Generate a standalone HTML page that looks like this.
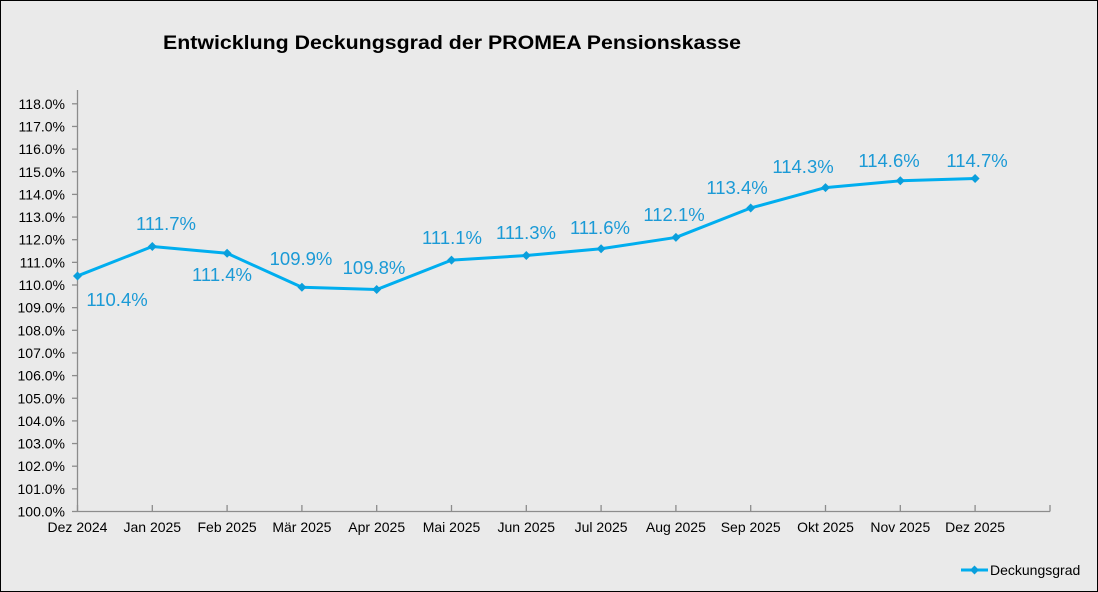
<!DOCTYPE html>
<html><head><meta charset="utf-8"><style>
html,body{margin:0;padding:0;background:#eaeaea}
svg{display:block}
text{font-family:"Liberation Sans",Arial,sans-serif}
</style></head><body>
<svg width="1098" height="592" viewBox="0 0 1098 592" xmlns="http://www.w3.org/2000/svg">
<rect x="0.5" y="0.5" width="1097" height="591" fill="#eaeaea" stroke="#000" stroke-width="1"/>
<text x="163" y="49" font-size="19" font-weight="bold" fill="#000" textLength="578" lengthAdjust="spacingAndGlyphs">Entwicklung Deckungsgrad der PROMEA Pensionskasse</text>
<g stroke="#8c8c8c" stroke-width="1.3" fill="none">
<line x1="77.5" y1="90" x2="77.5" y2="511.5"/>
<line x1="77.5" y1="511.5" x2="1050" y2="511.5"/>
</g>
<g id="yt" stroke="#8c8c8c" stroke-width="1.3"></g>
<g id="yl" font-size="14" fill="#000" text-anchor="end"></g>
<g id="xt" stroke="#8c8c8c" stroke-width="1.3"></g>
<g id="xl" font-size="14" fill="#000" text-anchor="middle"></g>
<polyline id="ln" fill="none" stroke="#00aeef" stroke-width="3" stroke-linejoin="round"/>
<g id="mk" fill="#0a9fdc"></g>
<g id="dl" font-size="18.5" fill="#1b9ad6" text-anchor="middle"></g>
<line x1="961" y1="570" x2="988" y2="570" stroke="#00aeef" stroke-width="3"/>
<path d="M974.5 565.5 L979 570 L974.5 574.5 L970 570 Z" fill="#0a9fdc"/>
<text x="990" y="575" font-size="14" fill="#000">Deckungsgrad</text>
</svg>
<script>
var NS="http://www.w3.org/2000/svg";
function el(p,t,a,tx){var e=document.createElementNS(NS,t);for(var k in a)e.setAttribute(k,a[k]);if(tx)e.textContent=tx;document.getElementById(p).appendChild(e);}
function Y(v){return 511.5-(v-100)*22.65;}
for(var i=0;i<=18;i++){var y=Y(100+i);el("yt","line",{x1:72,y1:y,x2:77.5,y2:y});el("yl","text",{x:65,y:y+5},(100+i).toFixed(1)+"%");}
var m=["Dez 2024","Jan 2025","Feb 2025","Mär 2025","Apr 2025","Mai 2025","Jun 2025","Jul 2025","Aug 2025","Sep 2025","Okt 2025","Nov 2025","Dez 2025"];
var v=[110.4,111.7,111.4,109.9,109.8,111.1,111.3,111.6,112.1,113.4,114.3,114.6,114.7];
var lc=[[117,300],[166,224],[222,275],[301,259],[374,268],[452,238],[526,233],[600,228],[674,215],[737,188],[803,167],[889,161],[977,161]];
var pts=[];
for(var i=0;i<13;i++){var x=77.5+i*74.8;el("xt","line",{x1:x,y1:505,x2:x,y2:511.5});el("xl","text",{x:x,y:532},m[i]);
var y=Y(v[i]);pts.push(x+","+y);el("mk","path",{d:"M"+x+" "+(y-4.5)+" L"+(x+4.5)+" "+y+" L"+x+" "+(y+4.5)+" L"+(x-4.5)+" "+y+" Z"});
el("dl","text",{x:lc[i][0],y:lc[i][1]+6},v[i].toFixed(1)+"%");}
el("xt","line",{x1:1050,y1:505,x2:1050,y2:511.5});
document.getElementById("ln").setAttribute("points",pts.join(" "));
</script>
</body></html>
